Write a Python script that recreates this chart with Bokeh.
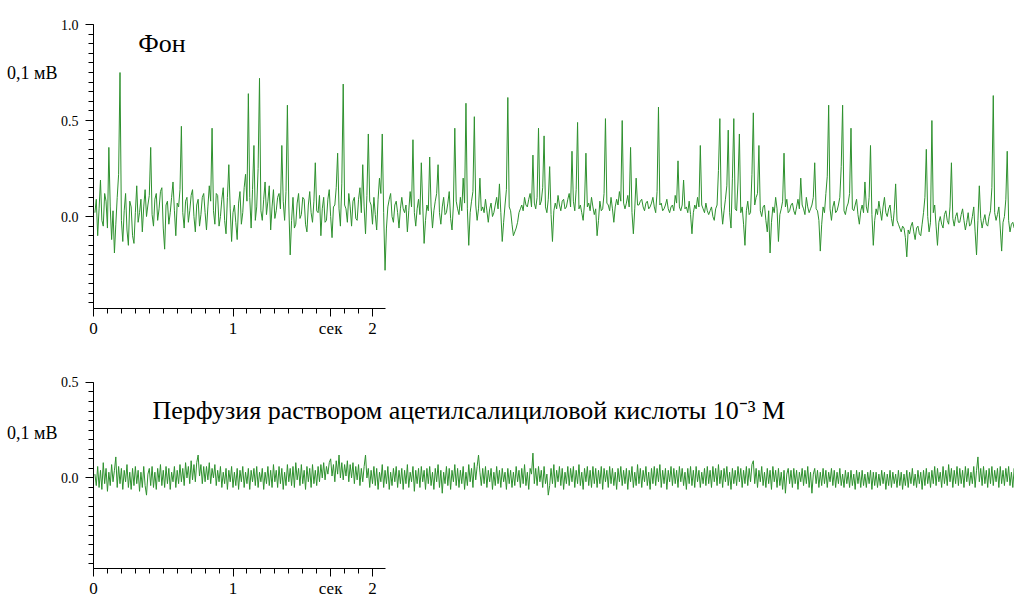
from bokeh.plotting import figure
from bokeh.layouts import column
from bokeh.models import FixedTicker, Range1d, LinearAxis, PrintfTickFormatter
from bokeh.core.properties import value
from bokeh.embed import file_html
from bokeh.resources import INLINE

# ---------------- data (units of 0.1 mV) ----------------
dt = 0.01  # s between samples
t0 = 0.01

top_mv = [
    0.02, 0.09, -0.10, 0.04, 0.19, -0.02, -0.05, 0.12, 0.08, -0.06, 0.36, 0.05, -0.12, 0.03, -0.19, -0.04, 0.10, 0.22, 0.75, -0.02,
    -0.13, 0.03, 0.12, -0.07, -0.15, 0.08, 0.05, -0.10, -0.14, 0.02, 0.16, -0.03, 0.02, 0.09, -0.08, 0.05, 0.14, 0.00, 0.06, 0.11,
    0.36, 0.01, -0.05, 0.09, 0.12, -0.02, 0.04, 0.13, 0.15, -0.06, -0.17, 0.06, 0.08, -0.04, 0.02, 0.10, 0.18, 0.03, -0.10, 0.07,
    0.05, 0.14, 0.47, 0.02, -0.06, 0.08, 0.10, -0.03, 0.03, 0.11, 0.14, 0.00, -0.08, 0.06, 0.09, -0.05, 0.01, 0.10, 0.12, 0.02,
    -0.07, 0.05, 0.16, 0.08, 0.46, 0.03, -0.04, 0.12, 0.11, -0.05, 0.00, 0.09, 0.15, -0.02, -0.09, 0.10, 0.27, 0.04, -0.13, 0.02,
    0.06, -0.03, -0.12, 0.07, 0.13, -0.04, 0.02, 0.15, 0.22, 0.08, 0.64, 0.10, -0.06, 0.14, 0.37, -0.02, 0.05, 0.25, 0.72, 0.03,
    -0.02, 0.09, 0.18, 0.01, 0.08, 0.16, -0.07, 0.05, 0.14, -0.01, 0.03, 0.10, 0.12, 0.04, 0.37, 0.08, -0.02, 0.13, 0.58, 0.06,
    -0.20, -0.02, 0.10, -0.06, -0.04, 0.07, 0.12, -0.01, 0.01, 0.10, 0.09, -0.04, -0.08, 0.06, 0.13, 0.02, -0.03, 0.08, 0.28, 0.03,
    0.02, 0.11, -0.10, 0.04, 0.10, -0.03, -0.02, 0.09, 0.14, 0.00, -0.11, 0.05, 0.06, 0.15, 0.33, 0.04, -0.05, 0.17, 0.69, 0.06,
    0.04, -0.03, 0.12, 0.05, -0.05, 0.08, 0.10, -0.01, -0.02, 0.09, 0.15, 0.02, 0.27, 0.05, -0.09, 0.11, 0.43, 0.08, 0.06, -0.04,
    0.10, 0.01, -0.07, 0.09, 0.20, 0.12, 0.43, 0.02, -0.28, -0.06, 0.05, 0.09, 0.12, 0.00, -0.03, 0.06, 0.08, 0.02, -0.06, 0.04,
    0.10, 0.04, 0.02, 0.06, -0.08, 0.03, 0.13, 0.05, 0.40, 0.02, -0.05, 0.04, 0.09, 0.01, 0.28, 0.06, -0.14, -0.02, 0.06, 0.03,
    0.31, 0.05, -0.06, 0.03, 0.08, 0.12, 0.27, 0.02, -0.04, 0.05, 0.10, 0.01, 0.02, 0.07, 0.13, -0.01, -0.07, 0.06, 0.46, 0.08,
    0.04, 0.01, 0.10, 0.03, 0.20, 0.07, 0.59, 0.04, -0.15, 0.02, 0.08, 0.13, 0.52, 0.06, -0.02, 0.04, 0.20, 0.03, 0.05, 0.02,
    0.09, 0.03, -0.03, 0.04, 0.07, 0.00, 0.02, 0.06, 0.10, 0.04, 0.17, 0.02, -0.13, -0.03, 0.06, 0.14, 0.62, 0.05, 0.03, -0.04,
    -0.10, -0.08, -0.06, -0.03, 0.02, 0.04, 0.06, 0.03, 0.10, 0.06, 0.05, 0.09, 0.12, 0.05, 0.32, 0.07, 0.04, 0.10, 0.46, 0.06,
    0.08, 0.15, 0.42, 0.05, 0.02, 0.09, 0.26, 0.01, -0.13, 0.03, 0.07, 0.04, 0.11, 0.06, 0.03, 0.08, 0.09, 0.04, 0.05, 0.09,
    0.12, 0.05, 0.34, 0.08, 0.03, 0.14, 0.49, 0.04, 0.06, 0.02, -0.02, 0.07, 0.33, 0.05, 0.07, 0.03, 0.10, 0.05, 0.01, 0.04,
    -0.10, -0.02, 0.08, 0.03, 0.04, 0.12, 0.51, 0.07, 0.06, 0.03, 0.10, 0.04, -0.03, 0.05, 0.09, 0.06, 0.13, 0.08, 0.50, 0.07,
    0.04, 0.07, 0.11, 0.05, 0.36, 0.02, -0.09, 0.04, 0.20, 0.06, 0.06, 0.08, 0.09, 0.05, 0.03, 0.07, 0.08, 0.04, 0.05, 0.07,
    0.10, 0.05, 0.02, 0.13, 0.57, 0.06, 0.07, 0.03, 0.04, 0.06, 0.09, 0.04, 0.02, 0.05, 0.06, 0.03, 0.11, 0.07, 0.29, 0.05,
    0.03, 0.06, 0.19, 0.04, 0.05, 0.02, 0.08, 0.01, -0.09, 0.02, 0.06, 0.04, 0.10, 0.05, 0.37, 0.06, 0.04, 0.02, 0.07, 0.03,
    0.01, 0.03, 0.05, 0.00, -0.02, 0.04, 0.06, 0.24, 0.51, 0.05, -0.04, 0.03, 0.09, 0.16, 0.45, 0.02, -0.06, 0.20, 0.51, 0.04,
    0.03, 0.18, 0.43, 0.02, 0.05, -0.04, -0.15, 0.03, 0.08, 0.01, 0.02, 0.22, 0.54, 0.06, 0.10, 0.12, 0.37, 0.03, 0.00, 0.05,
    0.06, -0.02, -0.08, 0.03, -0.19, -0.03, 0.05, 0.02, 0.10, 0.04, -0.13, 0.01, 0.04, 0.08, 0.33, 0.05, 0.09, 0.02, 0.03, 0.06,
    0.07, 0.03, 0.01, 0.05, 0.09, 0.04, 0.20, 0.06, 0.04, 0.01, 0.10, 0.05, 0.02, 0.04, 0.06, 0.10, 0.28, 0.04, 0.03, -0.02,
    -0.18, -0.04, 0.05, 0.02, 0.12, 0.21, 0.58, 0.04, -0.02, 0.05, 0.08, 0.02, 0.03, 0.06, 0.10, 0.26, 0.58, 0.03, 0.01, 0.05,
    0.07, 0.12, 0.46, 0.04, 0.03, 0.06, 0.09, 0.01, -0.04, 0.03, 0.06, 0.02, 0.18, 0.05, 0.02, 0.10, 0.37, 0.01, -0.15, -0.02,
    0.04, 0.01, 0.08, 0.03, -0.02, 0.05, 0.10, 0.02, 0.00, 0.04, 0.06, -0.01, -0.05, 0.03, 0.17, -0.02, -0.04, -0.06, -0.08, -0.05,
    -0.06, -0.11, -0.21, -0.07, -0.09, -0.05, -0.03, -0.08, -0.12, -0.06, -0.05, -0.09, -0.10, -0.04, 0.02, 0.10, 0.35, 0.00, -0.08, -0.03,
    0.50, 0.02, 0.06, -0.05, -0.15, -0.03, 0.00, -0.04, -0.06, 0.01, 0.03, -0.02, -0.04, 0.05, 0.28, -0.01, -0.05, 0.00, 0.02, -0.03,
    -0.03, 0.01, 0.04, -0.02, -0.07, -0.03, 0.02, -0.05, -0.04, 0.00, 0.05, -0.08, -0.20, -0.02, 0.16, -0.01, -0.06, -0.02, 0.01, -0.04,
    -0.05, 0.00, 0.03, 0.15, 0.63, 0.02, -0.02, 0.01, 0.05, -0.06, -0.18, -0.03, 0.00, 0.09, 0.34, -0.02, -0.08, -0.04, -0.03, -0.06,
    -0.06, -0.03,
]

bottom_mv = [
    0.02, -0.04, 0.06, -0.05, 0.04, -0.06, 0.08, -0.03, 0.05, -0.07, 0.03, -0.04, 0.07, -0.02, 0.04, 0.11, -0.05, 0.06, -0.03, 0.05,
    -0.06, 0.04, -0.02, 0.07, -0.05, 0.03, -0.06, 0.05, -0.04, 0.06, -0.03, 0.04, -0.07, 0.03, -0.05, 0.06, -0.04, -0.09, 0.02, 0.05,
    -0.04, 0.06, -0.05, 0.03, -0.06, 0.05, -0.02, 0.07, -0.04, 0.04, -0.05, 0.06, -0.03, 0.05, -0.06, 0.03, -0.02, 0.06, -0.05, 0.04,
    -0.03, 0.07, -0.02, 0.05, -0.04, 0.08, 0.00, 0.06, -0.03, 0.09, -0.01, 0.07, -0.02, 0.08, 0.12, 0.01, 0.07, -0.03, 0.06, -0.02,
    0.06, -0.01, 0.08, -0.03, 0.05, 0.00, 0.07, -0.04, 0.04, -0.02, 0.06, -0.05, 0.03, -0.03, 0.05, -0.06, 0.04, -0.02, 0.06, -0.05,
    0.03, -0.04, 0.05, -0.06, 0.04, -0.02, 0.06, -0.05, 0.03, -0.03, 0.05, -0.06, 0.04, -0.02, 0.05, -0.04, 0.06, -0.05, 0.03, -0.02,
    0.05, -0.06, 0.03, -0.03, 0.06, -0.04, 0.04, -0.05, 0.07, -0.02, 0.04, -0.05, 0.06, -0.03, 0.05, -0.06, 0.03, -0.04, 0.07, -0.02,
    0.05, -0.04, 0.06, -0.05, 0.08, -0.01, 0.05, -0.04, 0.07, -0.03, 0.04, -0.06, 0.06, -0.02, 0.05, -0.05, 0.07, -0.03, 0.04, -0.04,
    0.06, -0.02, 0.07, 0.00, 0.08, -0.01, 0.06, 0.02, 0.08, 0.10, 0.01, 0.07, -0.02, 0.09, 0.02, 0.12, 0.00, 0.08, -0.01, 0.07,
    0.01, 0.09, -0.02, 0.07, 0.00, 0.08, -0.03, 0.06, -0.01, 0.07, -0.04, 0.05, -0.02, 0.06, 0.12, 0.00, 0.05, -0.05, 0.04, -0.03,
    0.06, -0.04, 0.05, -0.06, 0.03, -0.02, 0.07, -0.05, 0.04, -0.03, 0.06, -0.06, 0.03, -0.04, 0.05, -0.02, 0.06, -0.05, 0.04, -0.03,
    0.05, -0.06, 0.04, -0.03, 0.07, -0.05, 0.03, -0.02, 0.06, -0.07, 0.04, -0.03, 0.05, -0.05, 0.06, -0.02, 0.04, -0.06, 0.05, -0.03,
    0.06, -0.04, 0.03, -0.06, 0.05, -0.02, 0.07, -0.05, 0.04, -0.08, 0.03, -0.03, 0.06, -0.04, 0.05, -0.06, 0.04, -0.02, 0.07, -0.04,
    0.05, -0.05, 0.04, -0.03, 0.06, -0.06, 0.03, -0.04, 0.07, -0.02, 0.05, -0.05, 0.08, -0.01, 0.06, 0.12, 0.03, -0.04, 0.05, -0.03,
    0.06, -0.05, 0.04, -0.02, 0.05, -0.06, 0.03, -0.04, 0.06, -0.03, 0.04, -0.05, 0.05, -0.02, 0.03, -0.06, 0.05, -0.03, 0.04, -0.05,
    0.03, -0.04, 0.06, -0.02, 0.04, -0.05, 0.05, -0.03, 0.07, -0.04, 0.03, -0.06, 0.05, 0.02, 0.13, -0.03, 0.05, -0.04, 0.06, -0.02,
    0.04, -0.05, 0.06, -0.03, 0.02, -0.09, -0.04, 0.05, -0.03, 0.07, -0.05, 0.04, -0.02, 0.06, -0.04, 0.05, -0.06, 0.03, -0.03, 0.06,
    -0.04, 0.05, -0.02, 0.06, -0.05, 0.04, -0.03, 0.07, -0.04, 0.03, -0.06, 0.05, -0.02, 0.06, -0.04, 0.04, -0.05, 0.06, -0.03, 0.05,
    -0.05, 0.04, -0.03, 0.06, -0.06, 0.05, -0.02, 0.04, -0.05, 0.06, -0.03, 0.05, -0.04, 0.03, -0.06, 0.05, -0.02, 0.06, -0.04, 0.04,
    -0.03, 0.05, -0.06, 0.04, -0.02, 0.06, -0.05, 0.03, -0.04, 0.07, -0.03, 0.05, -0.05, 0.04, -0.02, 0.06, -0.04, 0.03, -0.06, 0.05,
    -0.03, 0.06, -0.04, 0.05, -0.02, 0.07, -0.05, 0.04, -0.03, 0.05, -0.06, 0.04, -0.02, 0.06, -0.04, 0.05, -0.03, 0.04, -0.05, 0.06,
    -0.02, 0.05, -0.04, 0.03, -0.06, 0.05, -0.03, 0.06, -0.04, 0.04, -0.05, 0.06, -0.02, 0.04, -0.05, 0.03, -0.03, 0.05, -0.04, 0.06,
    -0.03, 0.04, -0.05, 0.06, -0.02, 0.05, -0.04, 0.07, -0.03, 0.04, -0.05, 0.05, -0.02, 0.06, -0.04, 0.03, -0.06, 0.05, -0.03, 0.04,
    -0.04, 0.06, -0.02, 0.05, -0.05, 0.04, -0.03, 0.06, -0.04, 0.05, -0.02, 0.07, 0.09, -0.03, 0.05, -0.05, 0.04, -0.02, 0.06, -0.04,
    0.03, -0.05, 0.05, -0.03, 0.04, -0.06, 0.06, -0.02, 0.04, -0.05, 0.05, -0.04, 0.03, -0.06, 0.04, -0.08, 0.02, 0.05, -0.03, 0.04,
    -0.05, 0.05, -0.03, 0.04, -0.06, 0.03, -0.02, 0.05, -0.04, 0.04, -0.03, 0.06, -0.05, 0.03, -0.08, 0.02, 0.05, -0.03, 0.04, -0.05,
    0.03, -0.04, 0.05, -0.03, 0.04, -0.05, 0.03, -0.02, 0.05, -0.04, 0.04, -0.05, 0.03, -0.03, 0.05, -0.04, 0.02, -0.05, 0.04, -0.03,
    0.03, -0.05, 0.04, -0.04, 0.02, -0.06, 0.04, -0.03, 0.03, -0.05, 0.04, -0.04, 0.02, -0.05, 0.03, -0.03, 0.04, -0.06, 0.03, -0.04,
    0.03, -0.05, 0.02, -0.04, 0.04, -0.03, 0.03, -0.06, 0.02, -0.04, 0.04, -0.05, 0.03, -0.03, 0.02, -0.05, 0.04, -0.04, 0.03, -0.06,
    0.02, -0.04, 0.04, -0.05, 0.03, -0.03, 0.05, -0.04, 0.02, -0.05, 0.04, -0.03, 0.03, -0.06, 0.04, -0.04, 0.05, -0.03, 0.03, -0.05,
    0.04, -0.03, 0.06, -0.04, 0.05, -0.02, 0.03, -0.05, 0.06, -0.03, 0.04, -0.04, 0.07, -0.02, 0.05, -0.05, 0.04, -0.03, 0.06, -0.04,
    0.05, -0.03, 0.04, -0.05, 0.06, -0.02, 0.05, -0.04, 0.03, -0.03, 0.06, -0.05, 0.04, 0.11, -0.02, 0.05, -0.04, 0.06, -0.03, 0.04,
    -0.05, 0.05, -0.03, 0.06, -0.04, 0.04, -0.02, 0.05, -0.05, 0.06, -0.03, 0.04, -0.04, 0.05, -0.02, 0.06, -0.04, 0.03, -0.05, 0.05,
    -0.03, 0.04,
]

t_top = [t0 + i * dt for i in range(len(top_mv))]
t_bottom = [t0 + i * dt for i in range(len(bottom_mv))]

# axis ticks / labels
x_major = [0, 1, 1.7, 2]
x_minor = [k / 10 for k in range(0, 21)]
x_label_overrides = {1.7: "сек"}
y_major_top = [0.0, 0.5, 1.0]
y_major_bottom = [0.0, 0.5]
y_minor_top = [k * 0.05 for k in range(-9, 21)]
y_minor_bottom = [k * 0.05 for k in range(-9, 11)]

units_label = "0,1 мВ"
title_top = "Фон"
title_bottom = "Перфузия раствором ацетилсалициловой кислоты 10⁻³ М"

# ---------------- styling ----------------
SERIF = "Liberation Serif, Times New Roman, serif"
LINE = "#2e912e"
X_END = 921 / 139.5   # frame width in seconds (139.5 px per second)


def make_panel(height, min_top, min_bottom, y0, y1, ytop_bound,
               y_major, y_minor, unit_y):
    p = figure(width=1014, height=height,
               x_range=Range1d(0, X_END), y_range=Range1d(y0, y1),
               output_backend="svg", toolbar_location=None,
               min_border_left=93, min_border_right=0,
               min_border_top=min_top, min_border_bottom=min_bottom)
    p.outline_line_color = None
    p.grid.visible = False
    p.background_fill_color = "white"
    p.border_fill_color = "white"

    p.xaxis.ticker = FixedTicker(ticks=x_major, minor_ticks=x_minor)
    p.xaxis.major_label_overrides = x_label_overrides
    p.yaxis.ticker = FixedTicker(ticks=y_major, minor_ticks=y_minor)
    p.yaxis.formatter = PrintfTickFormatter(format="%.1f")
    p.xaxis.bounds = (0, 2.09)
    p.yaxis.bounds = (y0, ytop_bound)
    for ax in (p.xaxis[0], p.yaxis[0]):
        ax.axis_line_color = "black"
        ax.major_tick_line_color = "black"
        ax.minor_tick_line_color = "black"
        ax.major_tick_in = 0
        ax.minor_tick_in = 0
        ax.major_tick_out = 8
        ax.minor_tick_out = 5
        ax.major_label_text_font = SERIF
        ax.major_label_text_color = "black"
    p.xaxis.major_label_text_font_size = "17px"
    p.xaxis.major_label_standoff = 2
    p.yaxis.major_label_text_font_size = "14px"
    p.yaxis.major_label_standoff = 7

    # second (outer) left axis: only carries the units caption as its one label
    unit_axis = LinearAxis(ticker=FixedTicker(ticks=[unit_y], minor_ticks=[]),
                           major_label_overrides={unit_y: units_label},
                           major_label_text_font=SERIF,
                           major_label_text_font_size="18px",
                           major_label_text_color="black",
                           major_label_standoff=0,
                           major_tick_in=0, major_tick_out=0,
                           minor_tick_in=0, minor_tick_out=0,
                           axis_line_color=None,
                           major_tick_line_color=None,
                           minor_tick_line_color=None)
    p.add_layout(unit_axis, "left")
    return p


# top panel: frame from page y=20 to y=308, 0.0 at y=216, 192 px per unit
top = make_panel(344, 20, 36, -0.479, 1.021, 1.0,
                 y_major_top, y_minor_top, 0.75)
top.line(t_top, top_mv, line_color=LINE, line_width=1)
top.text(x=[0.32], y=[0.90], text=[title_top], text_font=value(SERIF),
         text_font_size="26px", text_align="left",
         text_baseline="middle", text_color="black")

# bottom panel: frame from page y=376 to y=569, 0.0 at y=478
bottom = make_panel(256, 32, 31, -0.474, 0.531, 0.5,
                    y_major_bottom, y_minor_bottom, 0.234)
bottom.line(t_bottom, bottom_mv, line_color=LINE, line_width=1)
bottom.text(x=[0.423], y=[0.354], text=[title_bottom], text_font=value(SERIF),
            text_font_size="26px", text_align="left",
            text_baseline="middle", text_color="black")

layout = column(top, bottom)
open("out.html", "w").write(file_html(layout, INLINE))
